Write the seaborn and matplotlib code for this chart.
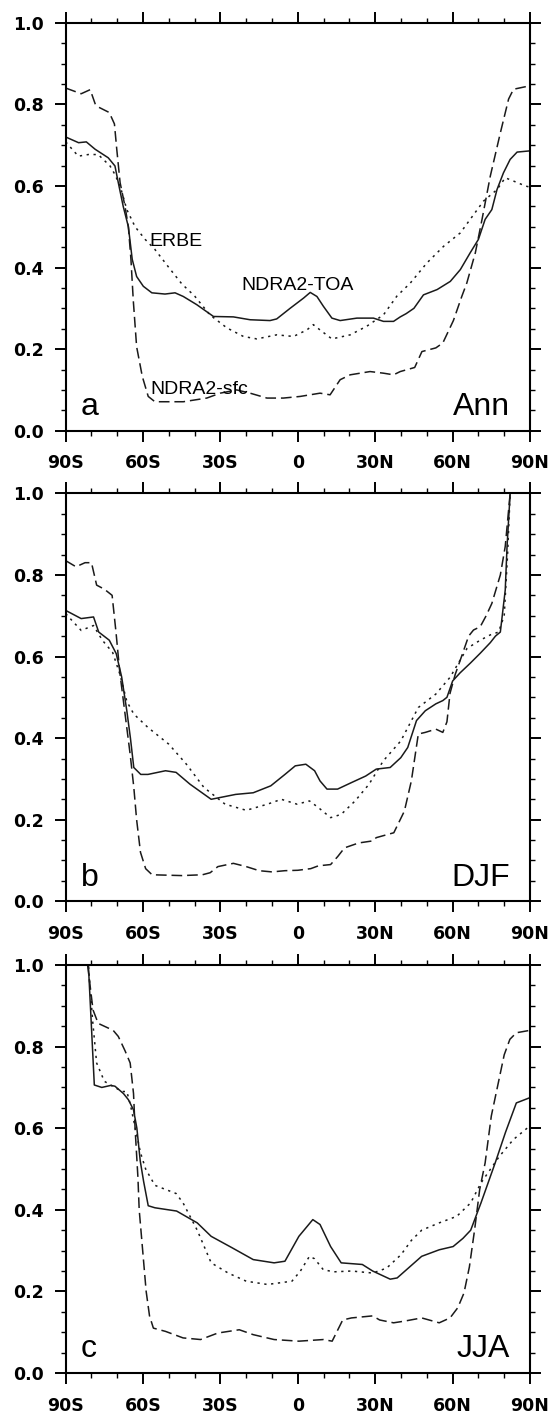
import matplotlib
matplotlib.use('Agg')
import matplotlib.pyplot as plt
import seaborn as sns
from matplotlib.ticker import MultipleLocator

sns.set_style('ticks')
plt.rcParams['font.family'] = ['DejaVu Sans']
plt.rcParams['text.color'] = 'black'

# --- data ---
# panel a: annual mean
ann_toa_lat = [-90, -85, -82, -78.6, -73.5, -70.9, -69.6, -67.7, -65.7, -64.2, -62.5, -59.9, -56.6, -51.5,
               -47.6, -44.4, -39.2, -32.7, -25, -18.5, -10.8, -8.2, -3, 2.2, 4.8, 7.4, 9.9, 13.2, 16.4,
               22.9, 29.3, 33.2, 37.1, 39.7, 42, 45, 48.7, 54, 59.1, 63, 66.8, 70, 72.6, 75.2, 77.2,
               79.7, 82.3, 85, 90]
ann_toa = [0.72, 0.706, 0.708, 0.69, 0.669, 0.649, 0.608, 0.55, 0.50, 0.42, 0.378, 0.354, 0.338, 0.335,
           0.338, 0.329, 0.309, 0.28, 0.279, 0.272, 0.27, 0.274, 0.30, 0.325, 0.339, 0.329, 0.305, 0.276,
           0.27, 0.276, 0.276, 0.268, 0.268, 0.279, 0.287, 0.30, 0.333, 0.346, 0.366, 0.395, 0.436,
           0.469, 0.518, 0.542, 0.591, 0.632, 0.665, 0.683, 0.686]
ann_erbe_lat = [-90, -85.1, -81.2, -77.4, -72.8, -70.9, -68.9, -66.3, -63.1, -59.2, -55.5, -50, -45, -40,
                -34.1, -27.5, -21.1, -15.9, -8.2, -1.7, 3.5, 6, 8.6, 13.2, 20.3, 26.7, 33.2, 38.4, 43.6,
                50, 56.5, 63, 66.8, 72, 77.2, 80.4, 83.6, 88.2, 90]
ann_erbe = [0.708, 0.673, 0.677, 0.677, 0.649, 0.628, 0.60, 0.542, 0.50, 0.469, 0.445, 0.40, 0.36, 0.33,
            0.284, 0.252, 0.231, 0.225, 0.235, 0.231, 0.247, 0.26, 0.247, 0.225, 0.235, 0.256, 0.284,
            0.33, 0.362, 0.411, 0.452, 0.485, 0.518, 0.563, 0.591, 0.62, 0.612, 0.60, 0.597]
ann_sfc_lat = [-90, -84, -80.5, -78.5, -77.2, -73.1, -71.1, -70.2, -68.9, -67, -65.7, -64.7, -63.8, -62.5,
               -60.3, -58, -55.4, -50, -44.4, -35.3, -30.1, -23.7, -18.5, -12, -5.6, 0.9, 8.6, 12.5,
               16.4, 20.3, 28, 33.2, 37.1, 39.7, 45.3, 48.1, 53.5, 56.2, 60.3, 63.6, 65.5, 68.8, 71.4,
               74.6, 78.5, 81.7, 83.6, 88.8, 90]
ann_sfc = [0.84, 0.826, 0.836, 0.80, 0.793, 0.78, 0.752, 0.69, 0.608, 0.55, 0.50, 0.42, 0.32, 0.206,
           0.133, 0.084, 0.071, 0.071, 0.071, 0.08, 0.092, 0.10, 0.092, 0.08, 0.08, 0.084, 0.092, 0.088,
           0.125, 0.137, 0.145, 0.141, 0.137, 0.145, 0.155, 0.194, 0.203, 0.215, 0.27, 0.33, 0.362,
           0.436, 0.518, 0.624, 0.73, 0.813, 0.837, 0.844, 0.845]

# panel b: DJF
djf_toa_lat = [-90, -84, -79.2, -77.2, -73.1, -70.4, -68.3, -66.3, -64.9, -63.6, -60.9, -58.1, -51.3,
               -47.2, -41.8, -33.6, -24.1, -17.3, -10.5, -5, -1, 3.1, 6.5, 8.6, 11.3, 15.4, 20.8, 26.3,
               30.4, 35.8, 39.9, 42.6, 46, 49.4, 53.5, 56.2, 57.8, 60, 62.9, 66.9, 70.7, 74.6, 76.6,
               78.5, 80.4, 81.1, 82.3, 83.5]
djf_toa = [0.713, 0.693, 0.697, 0.66, 0.64, 0.607, 0.55, 0.467, 0.40, 0.328, 0.311, 0.311, 0.32, 0.316,
           0.287, 0.25, 0.262, 0.266, 0.283, 0.311, 0.332, 0.336, 0.32, 0.295, 0.275, 0.275, 0.291,
           0.307, 0.324, 0.328, 0.352, 0.377, 0.443, 0.467, 0.484, 0.492, 0.50, 0.54, 0.56, 0.584,
           0.608, 0.634, 0.65, 0.66, 0.763, 0.87, 1.0, 1.1]
djf_erbe_lat = [-90, -84, -79.2, -75.8, -71.8, -69, -66.3, -63.6, -58.1, -50, -43.2, -36.4, -28.2, -20,
                -11.8, -6.4, -0.3, 4.5, 7.9, 12.7, 16.8, 22.2, 27.6, 33.1, 39.9, 46.7, 53.5, 59, 65.6,
                70.7, 74.6, 77.8, 80, 81.3, 82.3, 83.5]
djf_erbe = [0.705, 0.664, 0.676, 0.64, 0.61, 0.557, 0.49, 0.459, 0.426, 0.385, 0.336, 0.279, 0.238,
            0.223, 0.238, 0.25, 0.238, 0.246, 0.23, 0.205, 0.213, 0.246, 0.287, 0.344, 0.393, 0.475,
            0.508, 0.549, 0.62, 0.64, 0.653, 0.66, 0.70, 0.85, 1.0, 1.1]
djf_sfc_lat = [-90, -86, -82.5, -80, -78, -75, -72, -71.5, -70.5, -69, -67, -65, -63.6, -62.5, -61, -59,
               -56.5, -45, -37, -34, -31, -25, -20, -15, -10, -5, 0, 5, 8, 12.7, 15.5, 18.1, 23.6, 29,
               30.4, 37.2, 41.3, 44, 46.7, 49.4, 53.5, 56.2, 57.8, 59, 61, 62.9, 66.2, 68.1, 70.7, 73,
               75.2, 78.5, 80.4, 82.3, 83.5]
djf_sfc = [0.835, 0.82, 0.83, 0.83, 0.775, 0.765, 0.75, 0.72, 0.66, 0.56, 0.46, 0.36, 0.28, 0.20, 0.12,
           0.08, 0.065, 0.063, 0.065, 0.07, 0.085, 0.093, 0.085, 0.075, 0.072, 0.075, 0.076, 0.08,
           0.087, 0.09, 0.11, 0.131, 0.143, 0.148, 0.156, 0.168, 0.221, 0.295, 0.41, 0.414, 0.422,
           0.414, 0.44, 0.51, 0.556, 0.59, 0.65, 0.665, 0.673, 0.70, 0.73, 0.80, 0.87, 1.0, 1.1]

# panel c: JJA
jja_toa_lat = [-82, -81.2, -78.9, -76, -72.5, -70.9, -67.6, -65.7, -63.7, -62.4, -61.1, -59.8, -58,
               -55.4, -47, -39, -33.6, -25.5, -17.3, -9.2, -5, 0.4, 5.8, 8.6, 12.7, 16.8, 25, 29, 35.8,
               38.5, 48, 54.8, 60.2, 64, 67, 71, 76.5, 80.5, 84.7, 90]
jja_toa = [1.08, 1.0, 0.706, 0.70, 0.705, 0.703, 0.685, 0.67, 0.645, 0.60, 0.52, 0.47, 0.41, 0.405,
           0.397, 0.368, 0.335, 0.307, 0.278, 0.27, 0.274, 0.335, 0.376, 0.364, 0.31, 0.27, 0.266, 0.25,
           0.23, 0.233, 0.286, 0.302, 0.31, 0.33, 0.35, 0.417, 0.515, 0.59, 0.662, 0.675]
jja_erbe_lat = [-82, -81.2, -79.5, -78, -75, -71, -68, -66.3, -65, -63, -61, -59, -55.4, -47.2, -44.5,
                -39, -33.6, -27, -20, -11.8, -2.3, 1, 4.5, 6.5, 9.9, 14, 20.8, 29, 34.4, 40, 44, 48,
                54.8, 61.6, 67, 71, 78, 83.5, 90]
jja_erbe = [1.08, 1.0, 0.86, 0.76, 0.715, 0.70, 0.69, 0.69, 0.66, 0.60, 0.54, 0.50, 0.46, 0.44, 0.417,
            0.35, 0.27, 0.245, 0.225, 0.217, 0.225, 0.25, 0.286, 0.28, 0.253, 0.248, 0.25, 0.245, 0.257,
            0.29, 0.325, 0.35, 0.368, 0.384, 0.417, 0.466, 0.53, 0.572, 0.606]
jja_sfc_lat = [-82, -81.5, -79.4, -77.4, -71.6, -69.6, -67, -65, -63.7, -63.1, -62, -61.5, -58.8, -57.5,
               -56, -51.3, -44.5, -37.7, -31, -22.7, -17.3, -9.2, 0.4, 9.9, 13.3, 17.4, 20.8, 29, 31.7,
               37.1, 41.2, 48, 54.8, 59, 62, 64.4, 66.5, 68.5, 70.5, 72.6, 75, 78, 80, 82.2, 84.7, 90]
jja_sfc = [1.08, 1.0, 0.89, 0.857, 0.84, 0.825, 0.79, 0.76, 0.685, 0.60, 0.48, 0.40, 0.20, 0.14, 0.11,
           0.102, 0.086, 0.082, 0.098, 0.106, 0.094, 0.082, 0.078, 0.082, 0.078, 0.13, 0.135, 0.14,
           0.13, 0.123, 0.127, 0.135, 0.123, 0.135, 0.16, 0.196, 0.26, 0.35, 0.45, 0.515, 0.63, 0.72,
           0.78, 0.818, 0.834, 0.84]

panel_letters = ['a', 'b', 'c']
seasons = ['Ann', 'DJF', 'JJA']
lat_ticks = [-90, -60, -30, 0, 30, 60, 90]
lat_labels = ['90S', '60S', '30S', '0', '30N', '60N', '90N']
y_ticks = [0.0, 0.2, 0.4, 0.6, 0.8, 1.0]

panels = [
    [(ann_toa_lat, ann_toa), (ann_erbe_lat, ann_erbe), (ann_sfc_lat, ann_sfc)],
    [(djf_toa_lat, djf_toa), (djf_erbe_lat, djf_erbe), (djf_sfc_lat, djf_sfc)],
    [(jja_toa_lat, jja_toa), (jja_erbe_lat, jja_erbe), (jja_sfc_lat, jja_sfc)],
]
line_styles = ['-', (0, (1.5, 3.0)), (0, (7, 3.2))]
line_col = '#1a1a1a'

fig = plt.figure(figsize=(5.51, 14.14), dpi=100)
bottoms = [0.6954, 0.3626, 0.0290]

for i, series in enumerate(panels):
    ax = fig.add_axes([0.1192, bottoms[i], 0.8427, 0.2885])
    for (lat, val), ls in zip(series, line_styles):
        sns.lineplot(x=lat, y=val, ax=ax, color=line_col, lw=1.1, linestyle=ls,
                     sort=False, estimator=None)

    ax.set_xlim(-90, 90)
    ax.set_ylim(0, 1)
    ax.set_xticks(lat_ticks)
    ax.set_xticklabels(lat_labels)
    ax.set_yticks(y_ticks)
    ax.set_yticklabels([f'{v:.1f}' for v in y_ticks])
    ax.xaxis.set_minor_locator(MultipleLocator(10))
    ax.yaxis.set_minor_locator(MultipleLocator(0.05))
    ax.tick_params(which='both', direction='out', top=True, right=True,
                   labeltop=False, labelright=False, color='black', labelcolor='black')
    ax.tick_params(which='major', length=8, width=1.4, labelsize=12.5)
    ax.tick_params(which='minor', length=3.5, width=1.0)
    ax.tick_params(axis='x', which='major', pad=9)
    ax.tick_params(axis='y', which='major', pad=8)
    for lab in ax.get_xticklabels() + ax.get_yticklabels():
        lab.set_fontweight('bold')
    for sp in ax.spines.values():
        sp.set_linewidth(1.5)
        sp.set_color('black')
    ax.set_xlabel('')
    ax.set_ylabel('')

    ax.text(0.032, 0.0386, panel_letters[i], transform=ax.transAxes, fontsize=23,
            family=['Liberation Sans'], ha='left', va='baseline', color='black')
    ax.text(0.956, 0.0386, seasons[i], transform=ax.transAxes, fontsize=23,
            family=['Liberation Sans'], ha='right', va='baseline', color='black')

    if i == 0:
        ax.text(-57.7, 0.452, 'ERBE', fontsize=14, family=['Liberation Sans'],
                va='baseline', color='black')
        ax.text(-21.8, 0.3457, 'NDRA2-TOA', fontsize=14, family=['Liberation Sans'],
                va='baseline', color='black')
        ax.text(-57.0, 0.090, 'NDRA2-sfc', fontsize=14, family=['Liberation Sans'],
                va='baseline', color='black')

fig.savefig('out.png', dpi=100)
